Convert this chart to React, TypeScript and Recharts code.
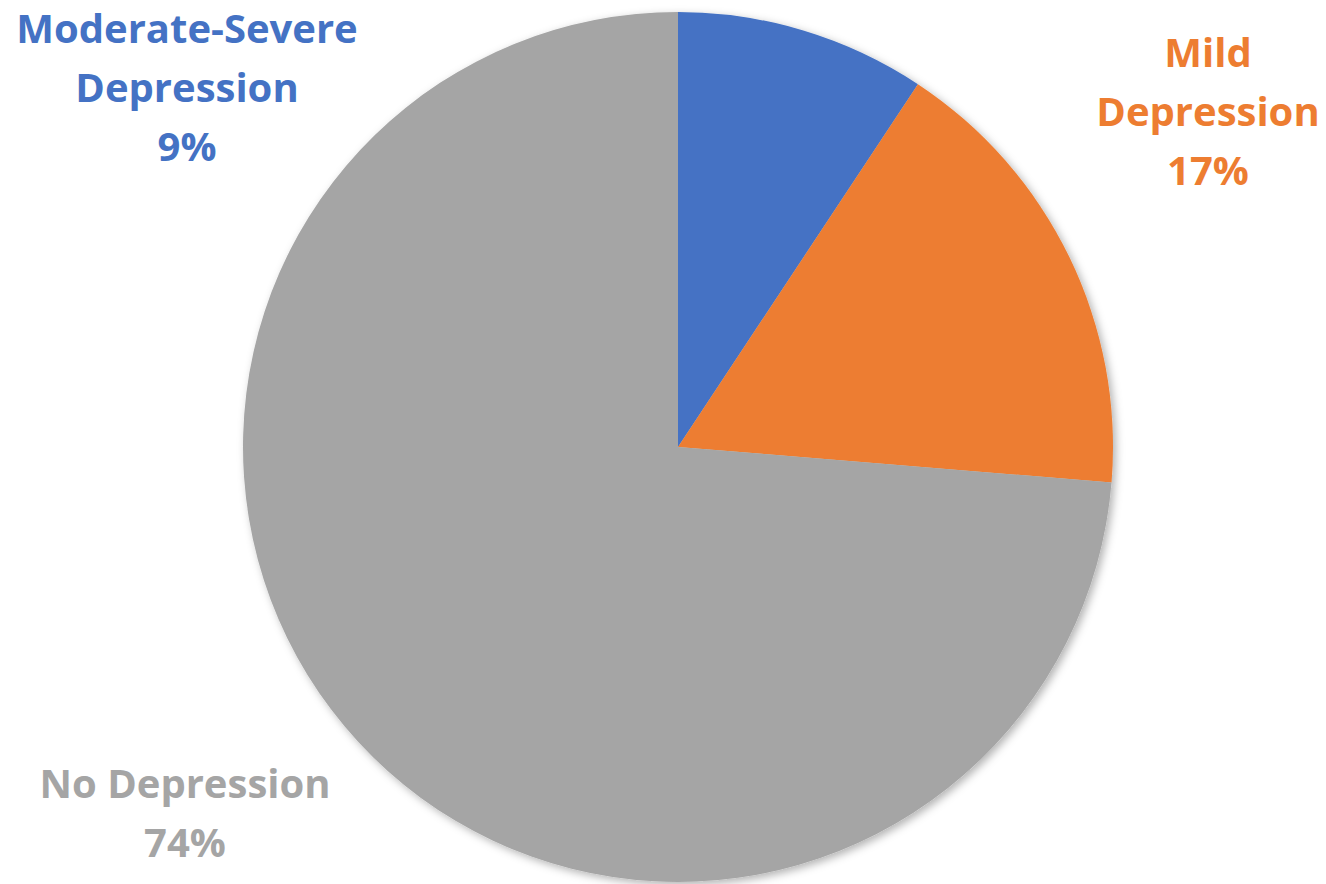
import React from "react";
import { PieChart, Pie, Cell } from "recharts";

const categories = ["Moderate-Severe Depression", "Mild Depression", "No Depression"];
const values = [9.3, 17.0, 73.7];
const labelLines = [["Moderate-Severe", "Depression"], ["Mild", "Depression"], ["No Depression"]];
const colors = ["#4472C4", "#ED7D31", "#A5A5A5"];

const data = categories.map((name, i) => ({ name, value: values[i] }));

// label layout offsets relative to pie center (dx, first baseline dy)
const labelLayout = [
  { dx: -491, dy: -404 },
  { dx: 530, dy: -380 },
  { dx: -493, dy: 351 },
];
const lineHeight = 59;

const renderLabel = (props: any) => {
  const { cx, cy, index, percent } = props;
  const lay = labelLayout[index];
  const lines = [...labelLines[index], `${Math.round(percent * 100)}%`];
  return (
    <text
      x={cx + lay.dx}
      y={cy + lay.dy}
      textAnchor="middle"
      fill={colors[index]}
      fontFamily="'Open Sans', sans-serif"
      fontWeight={700}
      fontSize={40}
    >
      {lines.map((l, i) => (
        <tspan key={i} x={cx + lay.dx} y={cy + lay.dy + i * lineHeight}>
          {l}
        </tspan>
      ))}
    </text>
  );
};

export default function App() {
  return (
    <div style={{ position: "absolute", left: 0, top: 0, width: 1326, height: 884, background: "#fff" }}>
      <style>{`g:has(> .recharts-pie-sector) { filter: url(#pieShadow); }`}</style>
      <svg width={0} height={0} style={{ position: "absolute" }}>
        <defs>
          <filter id="pieShadow" x="-10%" y="-10%" width="120%" height="120%">
            <feDropShadow dx={3} dy={3} stdDeviation={4} floodColor="#000" floodOpacity={0.3} />
          </filter>
        </defs>
      </svg>
      <PieChart width={1326} height={884} margin={{ top: 0, right: 0, bottom: 0, left: 0 }}>
        <Pie
          data={data}
          dataKey="value"
          nameKey="name"
          cx={678}
          cy={447}
          outerRadius={435}
          startAngle={90}
          endAngle={-270}
          stroke="none"
          label={renderLabel}
          labelLine={false}
          isAnimationActive={false}
        >
          {data.map((d, i) => (
            <Cell key={d.name} fill={colors[i]} />
          ))}
        </Pie>
      </PieChart>
    </div>
  );
}
